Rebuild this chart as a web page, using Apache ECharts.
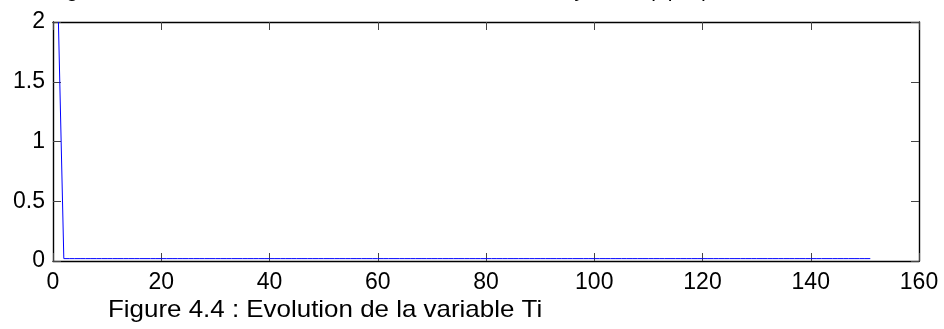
<!DOCTYPE html>
<html>
<head>
<meta charset="utf-8">
<script src="https://cdn.jsdelivr.net/npm/echarts@6/dist/echarts.min.js"></script>
<style>
html,body{margin:0;padding:0;background:#fff;}
#chart{width:944px;height:329px;}
</style>
</head>
<body>
<div id="chart"></div>
<script>
// iteration index 1..151
const iterations = [
  1,2,3,4,5,6,7,8,9,10,11,12,13,14,15,16,17,18,19,20,
  21,22,23,24,25,26,27,28,29,30,31,32,33,34,35,36,37,38,39,40,
  41,42,43,44,45,46,47,48,49,50,51,52,53,54,55,56,57,58,59,60,
  61,62,63,64,65,66,67,68,69,70,71,72,73,74,75,76,77,78,79,80,
  81,82,83,84,85,86,87,88,89,90,91,92,93,94,95,96,97,98,99,100,
  101,102,103,104,105,106,107,108,109,110,111,112,113,114,115,116,117,118,119,120,
  121,122,123,124,125,126,127,128,129,130,131,132,133,134,135,136,137,138,139,140,
  141,142,143,144,145,146,147,148,149,150,151
];
// variable Ti values
const tiValues = [
  2,0.02,0.02,0.02,0.02,0.02,0.02,0.02,0.02,0.02,0.02,0.02,0.02,0.02,0.02,0.02,0.02,0.02,0.02,0.02,
  0.02,0.02,0.02,0.02,0.02,0.02,0.02,0.02,0.02,0.02,0.02,0.02,0.02,0.02,0.02,0.02,0.02,0.02,0.02,0.02,
  0.02,0.02,0.02,0.02,0.02,0.02,0.02,0.02,0.02,0.02,0.02,0.02,0.02,0.02,0.02,0.02,0.02,0.02,0.02,0.02,
  0.02,0.02,0.02,0.02,0.02,0.02,0.02,0.02,0.02,0.02,0.02,0.02,0.02,0.02,0.02,0.02,0.02,0.02,0.02,0.02,
  0.02,0.02,0.02,0.02,0.02,0.02,0.02,0.02,0.02,0.02,0.02,0.02,0.02,0.02,0.02,0.02,0.02,0.02,0.02,0.02,
  0.02,0.02,0.02,0.02,0.02,0.02,0.02,0.02,0.02,0.02,0.02,0.02,0.02,0.02,0.02,0.02,0.02,0.02,0.02,0.02,
  0.02,0.02,0.02,0.02,0.02,0.02,0.02,0.02,0.02,0.02,0.02,0.02,0.02,0.02,0.02,0.02,0.02,0.02,0.02,0.02,
  0.02,0.02,0.02,0.02,0.02,0.02,0.02,0.02,0.02,0.02,0.02
];
const xTicks = {min: 0, max: 160, interval: 20};
const yTicks = {min: 0, max: 2, interval: 0.5};
const titleText = "Changement de la variable Ti en fonction des itérations du système (Tp,Ti)";
const captionText = "Figure 4.4 : Evolution de la variable Ti";

const font = "'Liberation Sans', Arial, sans-serif";
const chart = echarts.init(document.getElementById('chart'), null, {renderer: 'canvas'});

const axisLine = {show: true, onZero: false, lineStyle: {color: '#000', width: 1.4}};
const tick = {show: true, inside: true, length: 8, lineStyle: {color: '#444', width: 1}};
const label = {color: '#000', fontFamily: font, fontSize: 23};

chart.setOption({
  animation: false,
  backgroundColor: '#fff',
  grid: {left: 53, right: 25, top: 22, bottom: 68},
  xAxis: [
    {type: 'value', position: 'bottom', min: xTicks.min, max: xTicks.max, interval: xTicks.interval,
     axisLine: axisLine, axisTick: tick, splitLine: {show: false},
     axisLabel: Object.assign({margin: 10}, label)},
    {type: 'value', position: 'top', min: xTicks.min, max: xTicks.max, interval: xTicks.interval,
     axisLine: axisLine, axisTick: tick, splitLine: {show: false}, axisLabel: {show: false}}
  ],
  yAxis: [
    {type: 'value', position: 'left', min: yTicks.min, max: yTicks.max, interval: yTicks.interval,
     axisLine: axisLine, axisTick: tick, splitLine: {show: false},
     axisLabel: Object.assign({margin: 8}, label)},
    {type: 'value', position: 'right', min: yTicks.min, max: yTicks.max, interval: yTicks.interval,
     axisLine: axisLine, axisTick: tick, splitLine: {show: false}, axisLabel: {show: false}}
  ],
  series: [{
    type: 'line',
    data: iterations.map((x, i) => [x, tiValues[i]]),
    showSymbol: false,
    symbol: 'none',
    lineStyle: {color: '#0000ff', width: 1},
    xAxisIndex: 0, yAxisIndex: 0
  }],
  graphic: [
    {type: 'text', right: 944 - 709, top: -19,
     style: {text: titleText, font: '21px ' + font, fill: '#000', textAlign: 'right'}},
    {type: 'text', x: 108, y: 298, scaleX: 1.08,
     style: {text: captionText, font: '24px ' + font, fill: '#000'}}
  ]
});
</script>
</body>
</html>
